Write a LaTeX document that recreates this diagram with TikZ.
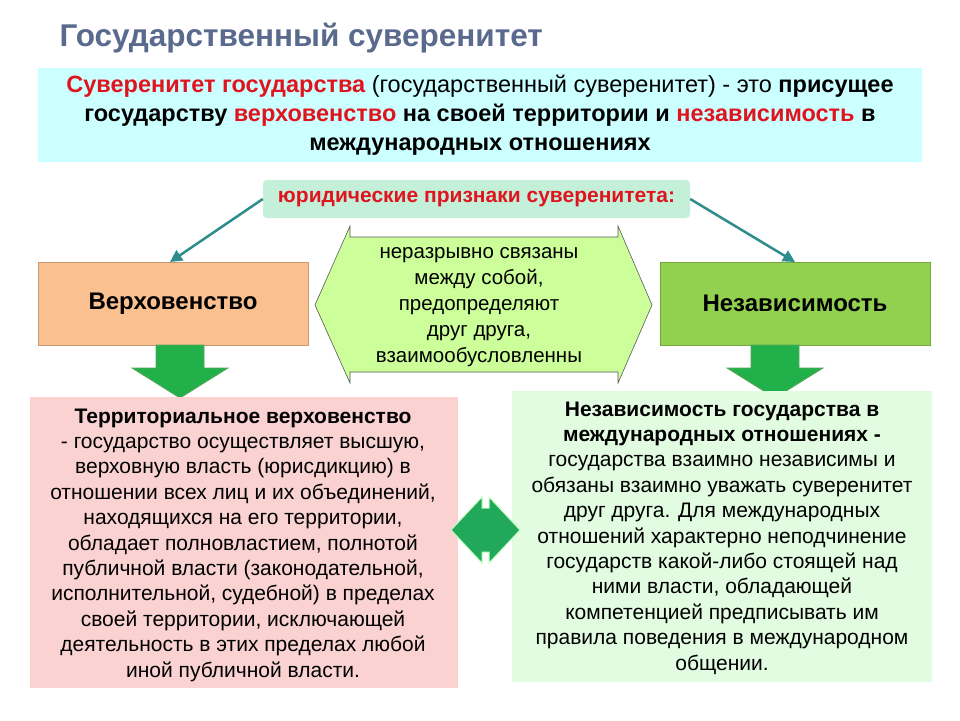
\documentclass[tikz,border=0pt]{standalone}
\usepackage{fontspec}
\setmainfont{Liberation Sans}
\usetikzlibrary{arrows.meta}
\definecolor{titlec}{HTML}{5A6A8E}
\definecolor{redc}{HTML}{E0141E}
\definecolor{cyanbox}{HTML}{CCFFFF}
\definecolor{mint}{HTML}{C4F0DA}
\definecolor{teal}{HTML}{2E8C8C}
\definecolor{orangeb}{HTML}{FAC090}
\definecolor{greenb}{HTML}{92D050}
\definecolor{hexg}{HTML}{CCFF99}
\definecolor{arrg}{HTML}{22B04A}
\definecolor{pinkb}{HTML}{FAD2D2}
\definecolor{lgreen}{HTML}{E2FCE2}
\definecolor{dblg}{HTML}{22A85A}
\begin{document}
\begin{tikzpicture}[x=1pt,y=-1pt,
  body/.style={font=\fontsize{21}{25.4}\selectfont, align=center, text=black}]
\useasboundingbox (0,0) rectangle (960,720);
\fill[white] (0,0) rectangle (960,720);
\node[anchor=west, text=titlec, font=\bfseries\fontsize{31.5}{36}\selectfont] (title) at (56,38) {Государственный суверенитет};
\fill[cyanbox] (38,68) rectangle (922,162);
\node[font=\bfseries\fontsize{23.5}{29}\selectfont, align=center] (def) at (480,115)
 {\textcolor{redc}{Суверенитет государства} \mdseries(государственный суверенитет) - это \bfseries присущее\\
 государству \textcolor{redc}{верховенство} на своей территории и \textcolor{redc}{независимость} в\\
 международных отношениях};
\node[fill=mint, rounded corners=4pt, minimum width=427, minimum height=38, text=redc,
  font=\bfseries\fontsize{21}{24}\selectfont] (lab) at (476.5,199) {юридические признаки суверенитета:};
\node[fill=orangeb, draw=orangeb!80!black, minimum width=270, minimum height=83, font=\bfseries\fontsize{24}{28}\selectfont] (verh) at (173,303.5) {Верховенство};
\node[fill=greenb, draw=greenb!80!black, minimum width=270, minimum height=83, font=\bfseries\fontsize{24}{28}\selectfont] (nez) at (795,303.5) {Независимость};
\draw[teal, line width=2.5pt, -{Triangle[length=12pt,width=12pt]}] (lab.west) -- (170,262);
\draw[teal, line width=2.5pt, -{Triangle[length=12pt,width=12pt]}] (lab.east) -- (795,262);
\draw[fill=hexg, draw=gray!70!black, line width=0.6pt] (315,305) -- (350,226) -- (350,237) -- (618,237) -- (618,226) -- (652,305) -- (618,383) -- (618,372) -- (350,372) -- (350,383) -- cycle;
\node[body, font=\fontsize{20.5}{26}\selectfont] (hex) at (479,307) {неразрывно связаны\\между собой,\\предопределяют\\друг друга,\\взаимообусловленны};
\foreach \cx in {180,775} {
  \fill[arrg, draw=green!30!gray, line width=0.8pt] (\cx-24,345) -- (\cx+24,345) -- (\cx+24,368) -- (\cx+48,368) -- (\cx,398) -- (\cx-48,368) -- (\cx-24,368) -- cycle;
}
\fill[pinkb] (30,397) rectangle (458,688);
\node[body] (terr) at (243,545) {\textbf{Территориальное верховенство}\\- государство осуществляет высшую,\\верховную власть (юрисдикцию) в\\отношении всех лиц и их объединений,\\находящихся на его территории,\\обладает полновластием, полнотой\\публичной власти (законодательной,\\исполнительной, судебной) в пределах\\своей территории, исключающей\\деятельность в этих пределах любой\\иной публичной власти.};
\fill[lgreen] (512,391) rectangle (932,682);
\node[body] (indep) at (722,538) {\textbf{Независимость государства в}\\\textbf{международных отношениях -}\\государства взаимно независимы и\\обязаны взаимно уважать суверенитет\\друг друга. Для международных\\отношений характерно неподчинение\\государств какой-либо стоящей над\\ними власти, обладающей\\компетенцией предписывать им\\правила поведения в международном\\общении.};
\fill[dblg, draw=green!25!white, line width=1pt] (451,530) -- (482,497) -- (482,508) -- (489,508) -- (489,497) -- (520,530) -- (489,563) -- (489,552) -- (482,552) -- (482,563) -- cycle;
\end{tikzpicture}
\end{document}
